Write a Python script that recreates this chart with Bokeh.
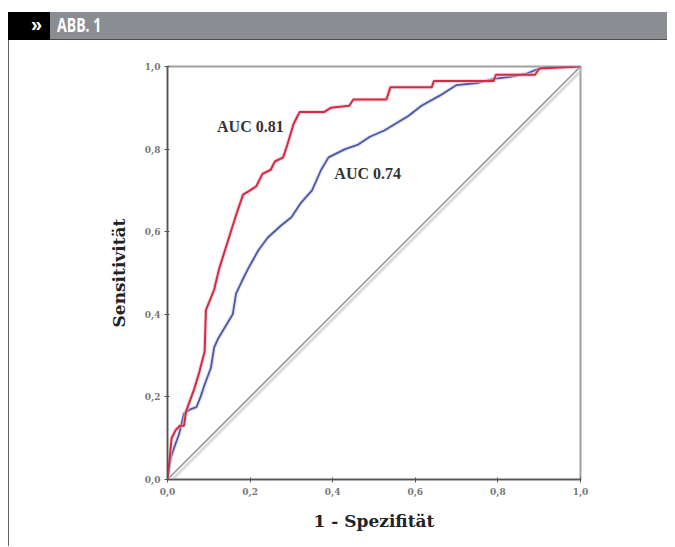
from bokeh.plotting import figure
from bokeh.models import Div, Label, Range1d, FixedTicker
from bokeh.layouts import column
from bokeh.embed import file_html
from bokeh.resources import INLINE

# ---- data ----
red_fpr = [0.0, 0.005, 0.01, 0.02, 0.03, 0.04, 0.045, 0.065, 0.077, 0.09, 0.093, 0.105, 0.113, 0.125,
           0.147, 0.166, 0.183, 0.2, 0.215, 0.23, 0.25, 0.26, 0.28, 0.29, 0.305, 0.32, 0.38, 0.395,
           0.44, 0.45, 0.53, 0.54, 0.64, 0.645, 0.79, 0.795, 0.89, 0.9, 1.0]
red_tpr = [0.0, 0.05, 0.10, 0.12, 0.13, 0.13, 0.165, 0.22, 0.26, 0.31, 0.41, 0.44, 0.46, 0.51,
           0.58, 0.64, 0.69, 0.70, 0.71, 0.74, 0.75, 0.77, 0.78, 0.81, 0.86, 0.89, 0.89, 0.90,
           0.905, 0.92, 0.92, 0.95, 0.95, 0.965, 0.965, 0.98, 0.98, 0.995, 1.0]

blue_fpr = [0.0, 0.008, 0.016, 0.028, 0.04, 0.055, 0.07, 0.08, 0.09, 0.105, 0.113, 0.122, 0.146,
            0.158, 0.166, 0.18, 0.195, 0.22, 0.243, 0.275, 0.3, 0.323, 0.35, 0.372, 0.39, 0.43,
            0.46, 0.49, 0.525, 0.55, 0.583, 0.615, 0.66, 0.70, 0.75, 0.79, 0.83, 0.87, 0.9, 0.92, 1.0]
blue_tpr = [0.0, 0.053, 0.077, 0.11, 0.16, 0.17, 0.175, 0.2, 0.23, 0.27, 0.32, 0.34, 0.38,
            0.40, 0.45, 0.48, 0.51, 0.555, 0.586, 0.615, 0.635, 0.67, 0.70, 0.75, 0.78, 0.80,
            0.81, 0.83, 0.845, 0.86, 0.88, 0.905, 0.93, 0.955, 0.96, 0.97, 0.975, 0.983, 0.995, 1.0, 1.0]

ref_x = [0.0, 1.0]
ref_y = [0.0, 1.0]

tick_values = [0.0, 0.2, 0.4, 0.6, 0.8, 1.0]
tick_labels = ["0,0", "0,2", "0,4", "0,6", "0,8", "1,0"]

auc_labels = ["AUC 0.81", "AUC 0.74"]
auc_pos_x = [0.12, 0.404]
auc_pos_y = [0.855, 0.74]

header_mark = "»"
header_title = "ABB. 1"
x_title = "1 - Spezifität"
y_title = "Sensitivität"

# ---- header ----
header = Div(
    text=(
        '<div style="position:relative;width:659px;height:32px;">'
        '<div style="position:absolute;top:4px;left:0;width:42px;height:28px;background:#000;'
        'color:#fff;font:bold 20px \'Liberation Sans\';line-height:25px;box-sizing:border-box;'
        f'padding-left:23px;">{header_mark}</div>'
        '<div style="position:absolute;top:4px;left:42px;width:617px;height:28px;background:#8a8d92;'
        'border-bottom:1px solid #4a4a4a;box-sizing:border-box;color:#fff;'
        'font:bold 19px \'Open Sans\';line-height:26px;padding-left:7px;">'
        '<span style="display:inline-block;transform:scaleX(0.74);transform-origin:left center;">'
        f'{header_title}</span></div></div>'
    ),
    width=659, height=32, margin=(0, 0, 0, 0),
)

# ---- figure ----
p = figure(width=659, height=506, output_backend="svg", toolbar_location=None,
           x_range=Range1d(0, 1), y_range=Range1d(0, 1),
           min_border_left=158, min_border_right=88, min_border_top=26, min_border_bottom=67,
           margin=(0, 0, 0, 0))
p.styles = {"border-left": "1px solid #666"}
p.grid.visible = False
p.outline_line_color = "#a0a0a0"
p.outline_line_width = 2
p.background_fill_color = "white"

for ax in (p.xaxis[0], p.yaxis[0]):
    ax.ticker = FixedTicker(ticks=tick_values)
    ax.major_label_overrides = {v: l for v, l in zip(tick_values, tick_labels)}
    ax.minor_tick_line_color = None
    ax.major_tick_in = 2
    ax.major_tick_out = 3
    ax.major_tick_line_color = "#555"
    ax.axis_line_color = "#555"
    ax.axis_line_width = 1.5
    ax.major_label_text_font = "DejaVu Serif"
    ax.major_label_text_font_style = "bold"
    ax.major_label_text_font_size = "9px"
    ax.major_label_text_color = "#777"
    ax.axis_label_text_font = "DejaVu Serif"
    ax.axis_label_text_font_style = "bold"
    ax.axis_label_text_font_size = "17px"
    ax.axis_label_text_color = "#222"
    ax.axis_label_standoff = 13

p.xaxis.axis_label = x_title
p.yaxis.axis_label = y_title
p.xaxis.major_label_standoff = 5
p.yaxis.major_label_standoff = 4

# reference diagonal with soft shadow
p.line([v + 0.006 for v in ref_x], [v - 0.006 for v in ref_y], line_color="#cccccc", line_width=3, line_alpha=0.7)
p.line(ref_x, ref_y, line_color="#8a8a8a", line_width=1.3)

# curves
p.line(blue_fpr, blue_tpr, line_color="#c8cde8", line_width=4, line_alpha=0.6)
p.line(blue_fpr, blue_tpr, line_color="#4b58a6", line_width=1.8)
p.line(red_fpr, red_tpr, line_color="#f0c0c8", line_width=4, line_alpha=0.6)
p.line(red_fpr, red_tpr, line_color="#d42a44", line_width=2)

for t, x, y in zip(auc_labels, auc_pos_x, auc_pos_y):
    p.add_layout(Label(x=x, y=y, text=t, text_font="Liberation Serif", text_font_style="bold",
                       text_font_size="16px", text_color="#333", text_baseline="middle"))

layout = column(header, p, spacing=0, margin=(8, 0, 0, 8))
open("out.html", "w").write(file_html(layout, INLINE))
